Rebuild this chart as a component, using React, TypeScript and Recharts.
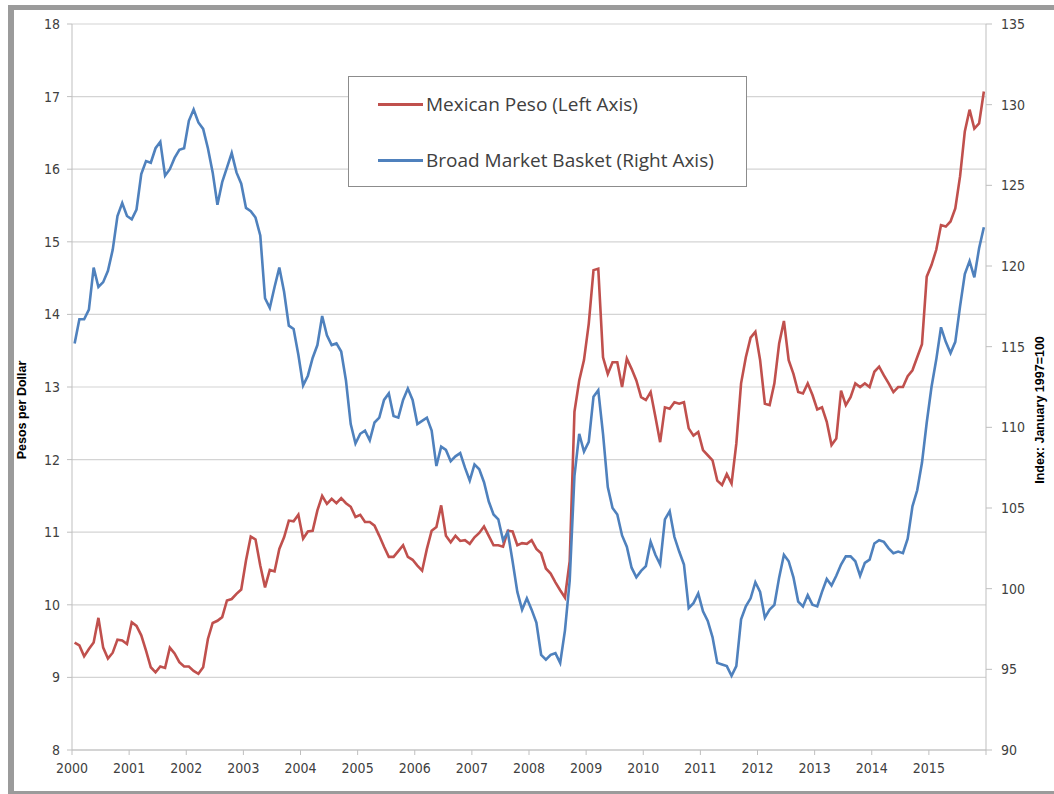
import React from 'react';
import { LineChart, Line, XAxis, YAxis, CartesianGrid } from 'recharts';

// Monthly averages, Jan 2000 - Dec 2015 (one row per year)
const pesoValues = [
  9.48, 9.44, 9.29, 9.39, 9.48, 9.82, 9.41, 9.26, 9.34, 9.52, 9.51, 9.46,
  9.76, 9.71, 9.58, 9.37, 9.14, 9.07, 9.15, 9.13, 9.41, 9.33, 9.21, 9.15,
  9.15, 9.09, 9.05, 9.14, 9.53, 9.75, 9.78, 9.83, 10.06, 10.08, 10.15, 10.21,
  10.61, 10.94, 10.9, 10.54, 10.24, 10.48, 10.46, 10.77, 10.93, 11.16, 11.15, 11.24,
  10.91, 11.01, 11.02, 11.3, 11.5, 11.39, 11.46, 11.4, 11.47, 11.4, 11.35, 11.21,
  11.24, 11.14, 11.14, 11.09, 10.95, 10.8, 10.66, 10.66, 10.74, 10.82, 10.66, 10.62,
  10.54, 10.47, 10.77, 11.02, 11.07, 11.37, 10.95, 10.86, 10.95, 10.88, 10.89, 10.84,
  10.93, 10.99, 11.08, 10.95, 10.82, 10.82, 10.8, 11.02, 11.01, 10.82, 10.85, 10.84,
  10.89, 10.77, 10.71, 10.5, 10.43, 10.31, 10.2, 10.1, 10.6, 12.66, 13.09, 13.37,
  13.87, 14.61, 14.63, 13.41, 13.18, 13.34, 13.34, 13.0, 13.39, 13.25, 13.09, 12.86,
  12.82, 12.93, 12.59, 12.24, 12.72, 12.7, 12.79, 12.77, 12.79, 12.43, 12.33, 12.38,
  12.13, 12.06, 11.99, 11.71, 11.65, 11.8, 11.67, 12.22, 13.05, 13.41, 13.68, 13.76,
  13.37, 12.77, 12.75, 13.05, 13.6, 13.91, 13.37, 13.18, 12.93, 12.91, 13.05, 12.89,
  12.69, 12.72, 12.52, 12.2, 12.29, 12.95, 12.75, 12.86, 13.05, 13.0, 13.05, 13.0,
  13.21, 13.28, 13.16, 13.05, 12.93, 13.0, 13.0, 13.15, 13.23, 13.41, 13.59, 14.52,
  14.68, 14.89, 15.23, 15.21, 15.28, 15.46, 15.9, 16.52, 16.82, 16.56, 16.63, 17.07,
];

const basketValues = [
  115.2, 116.7, 116.7, 117.3, 119.9, 118.7, 119.0, 119.7, 121.0, 123.1, 123.9, 123.1,
  122.9, 123.5, 125.7, 126.5, 126.4, 127.3, 127.7, 125.6, 126.0, 126.7, 127.2, 127.3,
  129.0, 129.7, 128.9, 128.5, 127.3, 125.8, 123.8, 125.2, 126.1, 127.0, 125.8, 125.1,
  123.6, 123.4, 123.0, 121.9, 118.0, 117.4, 118.7, 119.9, 118.4, 116.3, 116.1, 114.5,
  112.6, 113.2, 114.3, 115.1, 116.9, 115.7, 115.1, 115.2, 114.7, 112.9, 110.2, 109.0,
  109.6, 109.8, 109.2, 110.3, 110.6, 111.7, 112.1, 110.7, 110.6, 111.7, 112.4, 111.7,
  110.2, 110.4, 110.6, 109.8, 107.6, 108.8, 108.6, 107.9, 108.2, 108.4, 107.5, 106.7,
  107.7, 107.4, 106.6, 105.4, 104.6, 104.3, 103.0, 103.5, 101.7, 99.8, 98.7, 99.4,
  98.7, 97.9, 95.9, 95.6, 95.9, 96.0, 95.4, 97.4, 100.5, 107.0, 109.6, 108.5,
  109.1, 111.9, 112.3, 109.6, 106.3, 105.0, 104.6, 103.3, 102.6, 101.3, 100.7, 101.1,
  101.4, 102.9, 102.1, 101.5, 104.3, 104.8, 103.2, 102.3, 101.5, 98.8, 99.1, 99.7,
  98.6, 98.0, 97.0, 95.4, 95.3, 95.2, 94.6, 95.2, 98.1, 98.9, 99.4, 100.4,
  99.8, 98.2, 98.7, 99.0, 100.7, 102.1, 101.7, 100.7, 99.2, 98.9, 99.6, 99.0,
  98.9, 99.8, 100.6, 100.2, 100.8, 101.5, 102.0, 102.0, 101.7, 100.8, 101.6, 101.8,
  102.8, 103.0, 102.9, 102.5, 102.2, 102.3, 102.2, 103.1, 105.1, 106.1, 107.8, 110.3,
  112.5, 114.2, 116.2, 115.3, 114.6, 115.3, 117.5, 119.5, 120.3, 119.3, 121.1, 122.4,
];

const startYear = 2000;
const years = [2000, 2001, 2002, 2003, 2004, 2005, 2006, 2007, 2008, 2009, 2010, 2011, 2012, 2013, 2014, 2015];
const leftTicks = [8, 9, 10, 11, 12, 13, 14, 15, 16, 17, 18];
const rightTicks = [90, 95, 100, 105, 110, 115, 120, 125, 130, 135];

const series = [
  { key: 'peso', name: 'Mexican Peso (Left Axis)', color: '#C0504D', axis: 'left' },
  { key: 'basket', name: 'Broad Market Basket (Right Axis)', color: '#4F81BD', axis: 'right' },
];

// x is months since Jan 2000, points sit mid-month
const data = pesoValues.map((p, i) => ({ m: i + 0.55, peso: p, basket: basketValues[i] }));
const monthTicks = [...years.map((y) => (y - startYear) * 12), years.length * 12];

const tickFont = { fill: '#404040', fontSize: 14, fontFamily: '"Liberation Sans Narrow", "DejaVu Sans Condensed", sans-serif' };
const axisColor = '#bfbfbf';

export default function App() {
  return (
    <div style={{ position: 'fixed', left: 0, top: 0, width: 1054, height: 794, overflow: 'hidden', background: '#fff' }}>
      <div
        style={{
          position: 'absolute', left: 8, top: 5, width: 1100, height: 789, boxSizing: 'border-box',
          borderTop: '5px solid #9b9b9b', borderLeft: '6px solid #9b9b9b', borderBottom: '3px solid #9b9b9b',
        }}
      />
      <div style={{ position: 'absolute', left: 0, top: 0 }}>
        <LineChart width={1054} height={794} data={data} margin={{ top: 24, right: 0, left: 0, bottom: 0 }}>
          <CartesianGrid yAxisId="left" vertical={false} stroke="#d4d4d4" strokeWidth={1.2} />
          <XAxis
            dataKey="m"
            type="number"
            domain={[0, 192]}
            ticks={monthTicks}
            interval={0}
            height={44}
            tickFormatter={(v: number) => (v >= 192 ? '' : String(startYear + v / 12))}
            tick={tickFont}
            tickSize={5}
            tickMargin={8}
            axisLine={{ stroke: axisColor }}
            tickLine={{ stroke: axisColor }}
          />
          <YAxis
            yAxisId="left"
            domain={[8, 18]}
            ticks={leftTicks}
            interval={0}
            width={72}
            tick={tickFont}
            tickSize={5}
            tickMargin={7}
            axisLine={{ stroke: axisColor }}
            tickLine={{ stroke: axisColor }}
          />
          <YAxis
            yAxisId="right"
            orientation="right"
            domain={[90, 135]}
            ticks={rightTicks}
            interval={0}
            width={68}
            tick={tickFont}
            tickSize={6}
            tickMargin={9}
            axisLine={{ stroke: axisColor }}
            tickLine={{ stroke: axisColor }}
          />
          {series.map((s) => (
            <Line
              key={s.key}
              yAxisId={s.axis}
              dataKey={s.key}
              name={s.name}
              type="linear"
              stroke={s.color}
              strokeWidth={2.6}
              dot={false}
              activeDot={false}
              isAnimationActive={false}
            />
          ))}
        </LineChart>
      </div>

      <div
        style={{
          position: 'absolute', left: 22, top: 410, transform: 'translate(-50%, -50%) rotate(-90deg)',
          whiteSpace: 'nowrap', fontFamily: '"Liberation Sans", sans-serif', fontWeight: 'bold', fontSize: 12.5, color: '#000',
        }}
      >
        Pesos per Dollar
      </div>
      <div
        style={{
          position: 'absolute', left: 1040, top: 410, transform: 'translate(-50%, -50%) rotate(-90deg)',
          whiteSpace: 'nowrap', fontFamily: '"Liberation Sans", sans-serif', fontWeight: 'bold', fontSize: 12.5, color: '#000',
        }}
      >
        Index: January 1997=100
      </div>

      <div
        style={{
          position: 'absolute', left: 348, top: 76, width: 399, height: 111, boxSizing: 'border-box',
          border: '1.5px solid #8c8c8c', background: '#fff',
        }}
      >
        {series.map((s, i) => (
          <div
            key={s.key}
            style={{ position: 'absolute', left: 29, top: 12 + i * 56, height: 30, display: 'flex', alignItems: 'center' }}
          >
            <span style={{ display: 'inline-block', width: 45, height: 3, background: s.color }} />
            <span style={{ fontFamily: '"Open Sans", sans-serif', fontSize: 19, color: '#404040', marginLeft: 3 }}>
              {s.name}
            </span>
          </div>
        ))}
      </div>
    </div>
  );
}
